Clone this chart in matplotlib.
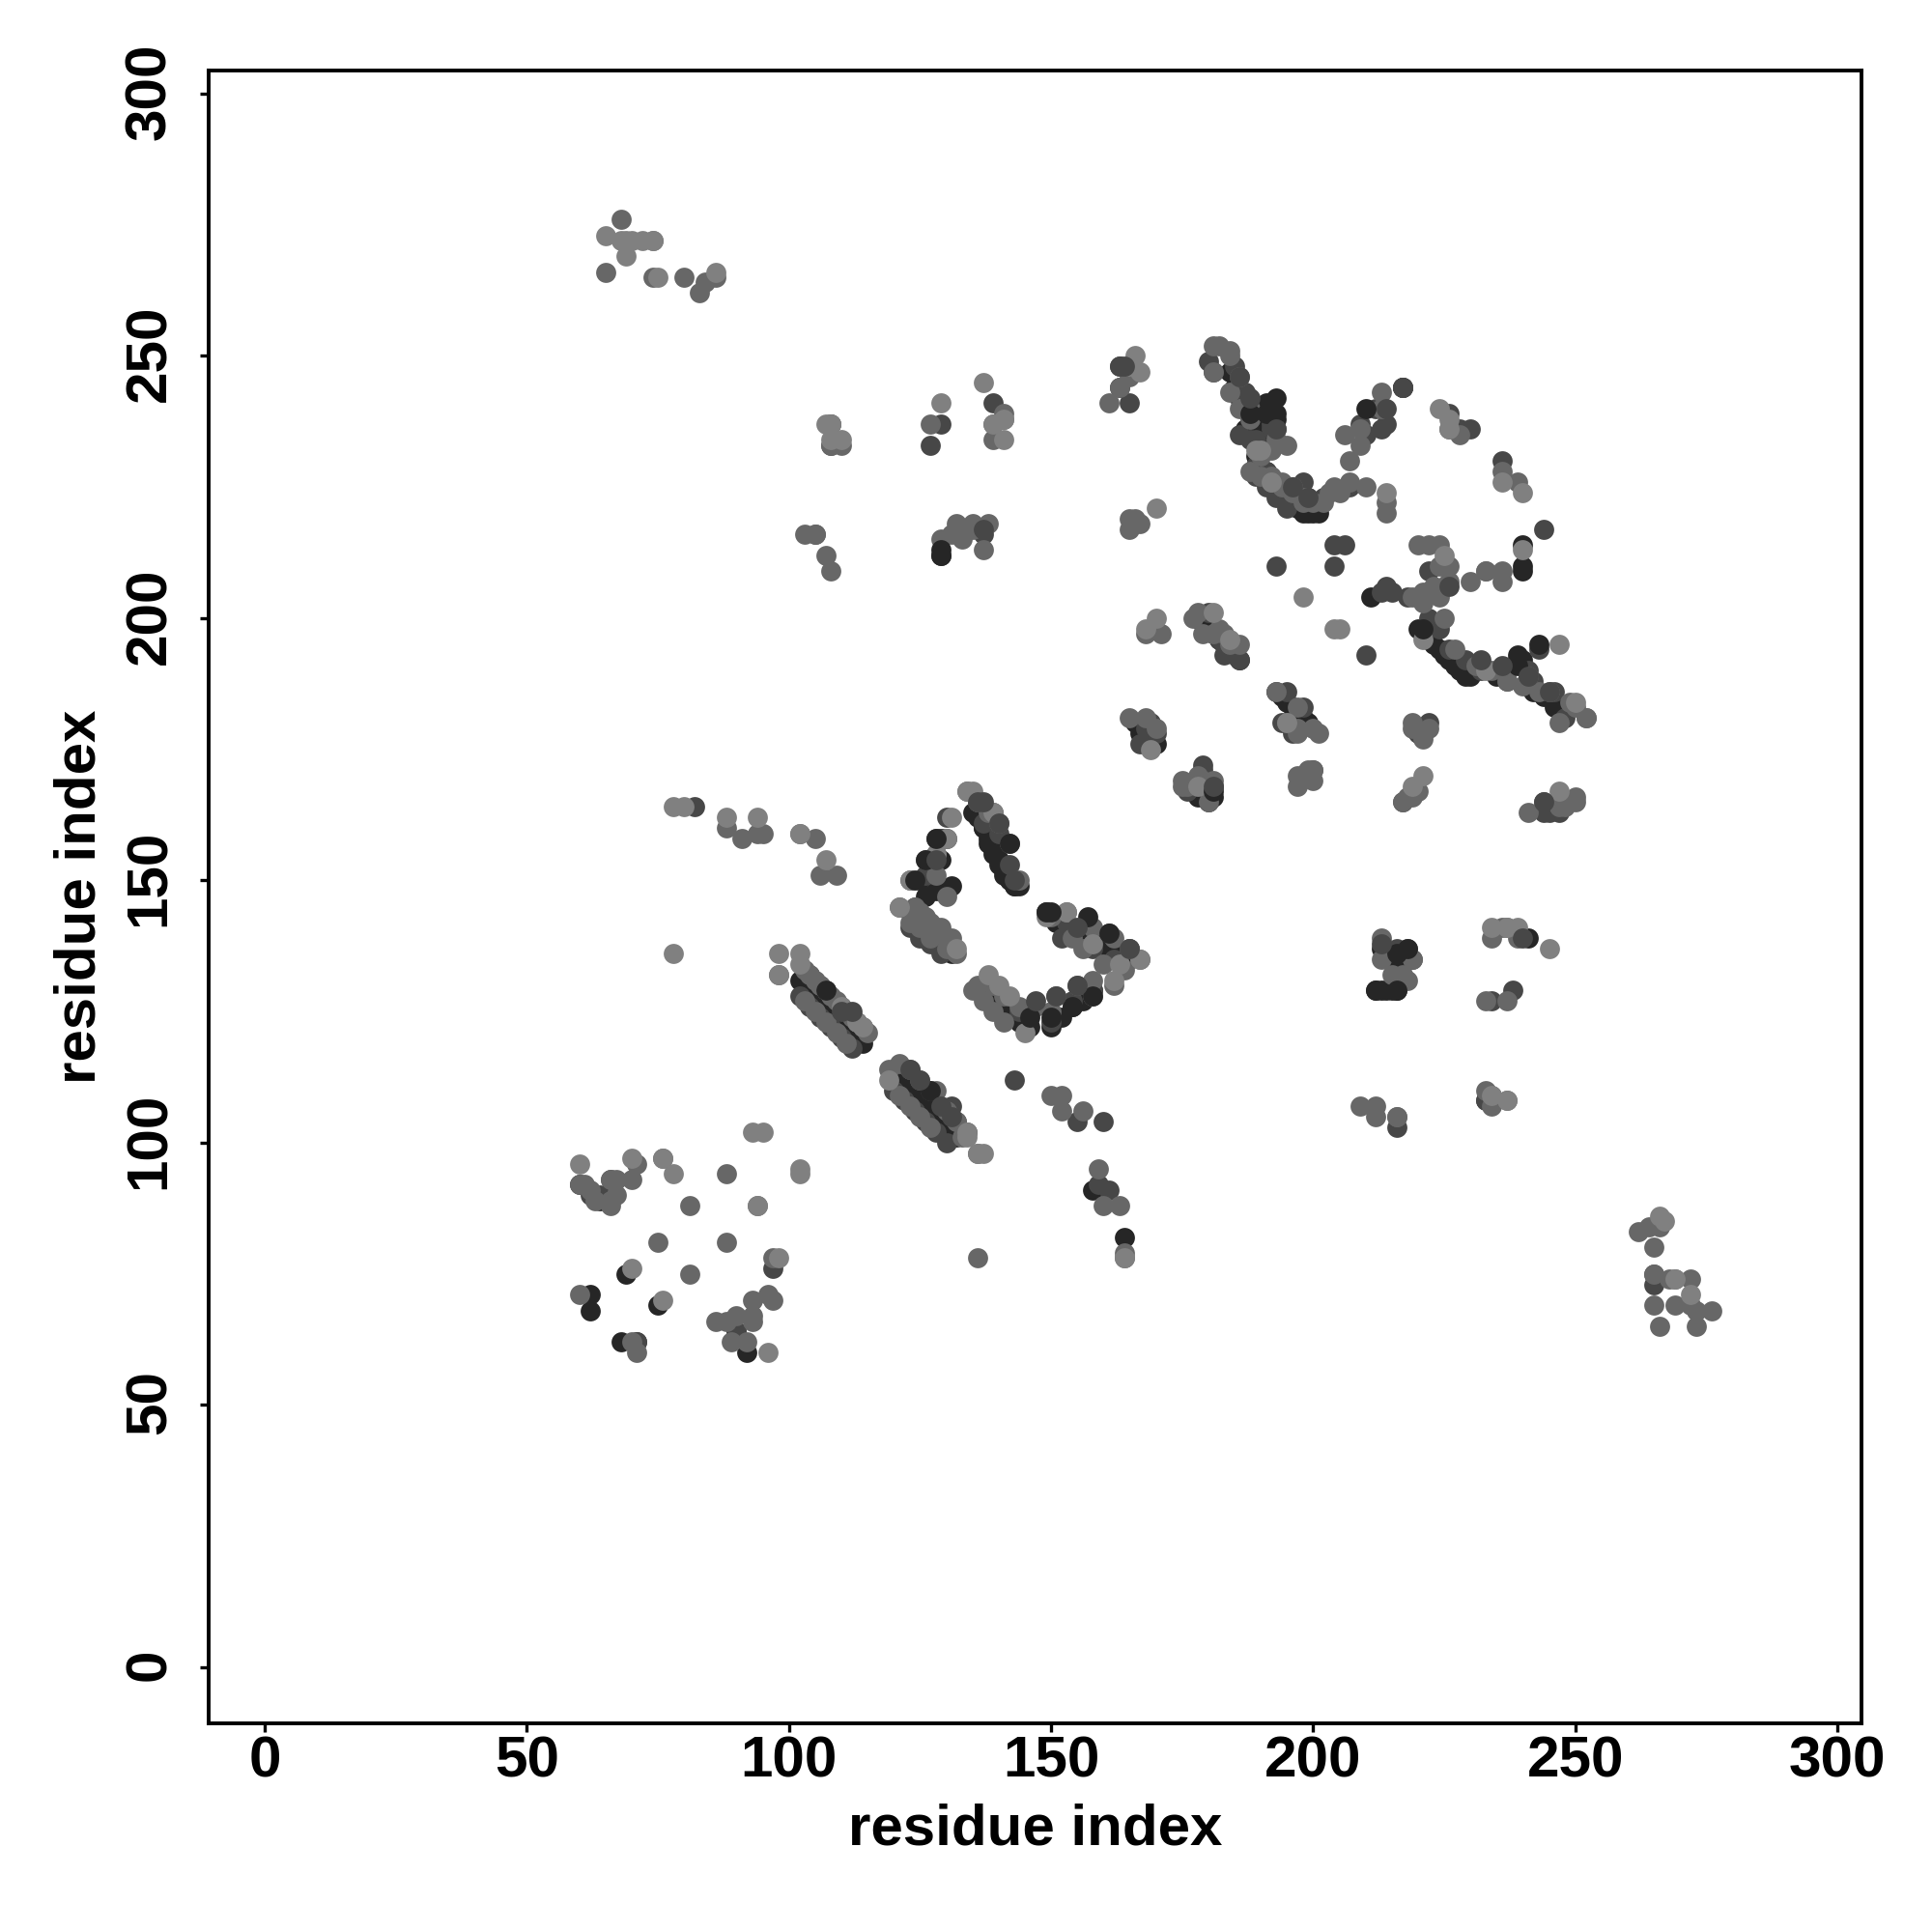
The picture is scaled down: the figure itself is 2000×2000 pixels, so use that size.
import matplotlib
matplotlib.use('Agg')
from matplotlib import pyplot as plt
from matplotlib import transforms

# contact pairs, one x and y list per grey level
x_dark = [60,62,62,68,71,69,75,64,90,92,
    102,103,104,105,106,107,108,109,110,111,112,113,114,
    120,121,122,123,124,125,126,127,128,129,130,131,132,
    123,124,125,126,127,128,129,130,131,
    135,136,137,138,139,140,141,142,143,
    137,138,139,140,141,142,143,144,
    149,151,153,155,157,159,161,163,165,
    137,138,139,140,141,142,143,144,146,150,152,154,156,158,
    127,129,129,131,126,128,125,
    184,185,186,187,188,189,190,191,187,189,191,193,193,189,191,
    190,191,192,193,194,195,196,197,198,199,200,201,
    220,221,222,223,224,225,226,227,228,229,230,
    235,237,239,240,240,241,242,244,246,248,
    178,179,180,181,182,183,184,185,186,
    193,194,195,196,197,198,199,
    166,167,168,168,169,170,176,178,179,180,181,181,
    212,213,214,215,216,216,217,213,215,
    163,129,158,211,240,240,164,233,241]
y_dark = [92,71,68,62,62,75,69,89,64,60,
    131,130,129,128,127,126,125,124,123,122,121,120,119,
    113,112,111,110,109,108,107,106,105,104,103,102,101,
    144,143,142,141,140,139,138,137,136,
    163,162,160,158,156,154,152,150,149,
    160,157,155,153,151,150,149,149,
    144,142,141,140,139,138,137,136,135,
    130,129,128,127,126,125,124,123,122,122,124,126,127,129,
    154,154,158,149,147,148,150,
    247,244,242,240,238,236,234,232,236,239,241,238,242,231,228,
    228,227,226,225,224,223,222,221,220,220,220,220,
    198,197,196,195,194,193,192,191,190,189,189,
    189,190,192,214,209,187,186,185,183,182,
    200,199,198,197,196,195,194,193,192,
    186,185,184,183,182,181,180,
    180,178,176,180,177,176,168,166,170,165,168,166,
    129,129,129,129,129,134,134,137,136,
    244,212,91,204,210,192,82,108,139]

x_deep = [90,66,64,62,97,
    107,113,104,111,
    127,131,132,134,
    129,126,124,
    136,137,139,140,142,
    153,157,161,165,
    144,150,154,158,
    127,129,133,137,139,
    163,165,185,187,195,193,199,
    188,192,198,202,
    209,212,214,222,
    207,214,213,215,
    224,232,237,241,243,
    228,226,
    169,167,176,179,
    180,182,194,196,
    220,222,245,247,
    143,82,155,160,
    204,206,204,210,236,
    234,238,
    216,218,219,
    193,
    71,216,230,
    214,217,244,
    102,104,106,108,110,112,
    120,122,124,126,128,130,
    123,125,127,129,
    152,158,162,
    189,191,193,195,
    128,130,128,130,
    180,181,186,189,191,189,192,
    217,213,210,
    183,180,186,
    195,198,
    218,222,224,226,229,
    242,246,248,
    168,170,
    176,179,
    200,
    217,220,244,244,
    159,161,105,108,
    233,
    265,265]
y_deep = [64,93,90,90,76,
    129,123,132,125,
    110,107,104,102,
    158,151,145,
    165,161,163,159,153,
    142,142,140,137,
    125,123,127,129,
    233,237,217,216,241,
    248,241,248,243,223,236,223,
    234,237,226,223,
    237,240,237,209,
    225,206,205,205,
    205,190,188,190,194,
    236,239,
    180,176,168,172,
    167,196,180,178,
    178,180,163,163,
    112,164,104,104,
    214,214,210,193,230,
    127,129,
    137,137,135,
    210,
    62,103,236,
    137,244,217,
    128,126,124,122,120,118,
    110,108,106,104,102,100,
    141,139,138,136,
    139,137,135,
    227,225,223,221,
    158,162,155,158,
    249,247,235,229,228,234,236,
    244,236,235,
    193,201,192,
    186,183,
    204,200,198,194,192,
    188,186,181,
    179,178,
    167,171,
    171,
    165,178,165,163,
    92,91,216,233,
    108,
    73,75]

x_mid = [60,61,62,63,66,67,66,66,67,70,71,76,88,81,94,81,75,88,97,60,93,96,97,86,88,90,93,93,89,92,71,70,
    98,103,105,106,108,110,112,114,115,
    119,121,123,125,128,130,132,133,
    126,128,130,123,121,
    134,136,138,140,142,144,
    153,158,162,165,167,149,150,
    136,139,141,144,147,150,151,155,158,162,
    123,125,127,130,132,
    88,91,94,95,102,105,106,109,
    150,152,152,156,
    159,160,163,136,136,
    165,166,163,165,161,
    181,182,181,184,186,184,186,188,193,195,192,188,190,192,194,196,198,203,205,207,210,
    217,209,207,213,209,214,214,
    226,228,236,239,
    221,223,225,226,224,233,236,
    220,222,224,226,224,230,233,236,
    237,241,245,249,252,247,
    168,171,178,181,183,184,186,
    193,197,197,200,201,
    165,168,170,175,176,179,181,
    197,199,200,217,219,
    219,222,241,248,250,
    65,74,74,80,83,84,86,
    108,110,127,141,139,
    105,107,108,
    129,132,135,137,
    165,167,
    213,219,217,215,218,
    209,212,216,
    234,237,233,237,
    233,234,237,
    262,264,266,265,265,269,272,265,269,272,273,276,266,273,
    103,105,107,109,111,
    104,106,109,111,113,
    121,123,125,127,
    125,127,129,131,128,130,
    124,126,129,131,
    135,137,139,141,
    154,156,160,164,
    184,188,190,192,194,196,198,200,202,204,
    213,206,
    219,221,223,225,227,231,234,
    240,243,250,252,
    177,179,182,
    195,197,
    164,164,
    175,178,180,
    197,200,
    218,220,
    219,221,
    247,250,
    108,108,
    141,139,
    213,217,
    236,239,
    212,216,
    234,
    266,268,
    68,
    103,131,133,135,138]
y_mid = [92,92,91,89,93,93,89,88,90,93,96,97,94,88,88,75,81,81,78,71,70,71,70,66,66,67,67,66,62,62,60,62,
    132,133,131,130,128,126,124,122,121,
    114,115,114,112,110,106,104,101,
    154,151,147,150,145,
    167,165,163,161,157,150,
    144,141,139,137,135,144,143,
    130,130,128,126,126,125,128,130,131,130,
    142,141,139,137,136,
    160,158,159,159,159,158,151,151,
    109,109,106,106,
    95,88,88,98,78,
    217,219,244,246,241,
    252,252,247,250,246,243,240,238,234,233,232,228,227,226,225,224,223,224,224,226,225,
    244,236,230,240,233,222,220,
    236,235,228,226,
    203,205,206,207,204,209,209,
    214,214,210,210,214,207,209,207,
    188,189,186,184,181,180,
    197,197,201,197,197,195,195,
    186,183,179,179,178,
    181,181,179,168,168,169,169,
    170,171,169,165,166,
    179,179,163,164,166,
    266,265,272,265,262,264,265,
    237,233,237,238,234,
    216,212,209,
    215,218,218,213,
    219,218,
    139,135,132,132,131,
    107,105,105,
    139,141,127,127,
    110,107,108,
    83,84,84,80,75,74,74,69,69,69,68,68,65,65,
    127,125,123,121,119,
    132,130,127,125,123,
    109,107,105,103,
    144,142,140,138,141,139,
    145,143,141,139,
    129,127,125,123,
    139,137,134,133,
    251,240,231,227,226,225,222,222,222,225,
    243,235,
    204,205,206,200,194,191,190,
    187,186,183,181,
    200,197,198,
    180,178,
    78,79,
    169,170,165,
    168,171,
    166,167,
    180,177,
    164,165,
    233,237,
    239,237,
    135,131,
    141,139,
    107,105,
    109,
    85,74,
    276,
    216,216,215,217,218]

x_light = [60,70,78,76,70,76,94,98,96,
    98,102,98,102,107,110,113,
    134,136,119,
    131,130,128,132,
    134,135,139,
    149,153,158,163,167,
    138,140,142,145,158,162,
    78,78,80,88,94,102,107,
    93,95,102,102,
    134,137,
    65,68,69,70,72,74,69,75,86,
    108,110,129,137,141,
    166,165,167,170,
    181,184,195,
    190,205,
    214,
    224,226,226,236,240,
    221,247,
    170,169,
    178,
    198,
    240,
    225,
    221,
    247,
    219,
    239,
    234,237,
    245,
    234,237,
    266,269,272,
    114,
    123,121,
    189,192,
    233,
    250,
    168,
    164,
    267,
    107,108,
    139,141,
    204]
y_light = [96,76,94,70,97,97,88,78,60,
    136,136,132,134,129,126,123,
    102,98,112,
    162,158,155,137,
    167,167,163,
    143,144,138,134,135,
    132,130,128,121,128,131,
    136,164,164,162,162,159,154,
    102,102,95,94,
    101,98,
    273,272,272,272,272,272,269,265,266,
    234,234,241,245,234,
    250,248,247,221,
    201,196,180,
    232,198,
    224,
    240,238,236,226,224,
    170,167,
    200,175,
    168,
    204,
    213,
    212,
    196,
    195,
    168,
    141,
    141,141,
    137,
    109,108,
    86,74,71,
    122,
    150,145,
    232,226,
    190,
    184,
    198,
    78,
    85,
    237,237,
    237,238,
    198]

# marks sitting over the lighter ones
x_top_dark = [107,127,128,126,124,142,149,150,157,161,146,150,154,158,
    191,193,188,210,221,239,239,243,216,181,
    129,129,212,216,218]
y_top_dark = [129,110,158,154,150,157,144,144,143,140,124,124,126,128,
    239,239,239,240,198,193,191,195,129,167,
    213,212,129,136,137]
x_top_deep = [110,112,123,125,131,129,128,136,137,140,155,165,147,151,155,
    186,188,193,196,199,214,217,217,163,232,236,245,241,
    143,137,164,213,
    244,240,226,181]
y_top_deep = [125,125,114,112,105,107,154,165,165,161,141,137,127,128,130,
    246,242,236,225,223,240,244,244,248,192,191,186,189,
    150,217,248,138,
    165,139,206,168]

shade_dark = '#262626'
shade_deep = '#474747'
shade_mid = '#676767'
shade_light = '#808080'

fig = plt.figure(figsize=(10, 10), dpi=200)
plt.rcParams['font.family'] = ['Liberation Sans', 'DejaVu Sans']
ax = fig.add_axes([216/2000, 216/2000, 1711/2000, 1711/2000])

for xs, ys, c in [(x_dark, y_dark, shade_dark), (x_deep, y_deep, shade_deep),
                  (x_mid, y_mid, shade_mid), (x_light, y_light, shade_light),
                  (x_top_dark, y_top_dark, shade_dark), (x_top_deep, y_top_deep, shade_deep)]:
    ax.scatter(xs, ys, s=56, c=c, linewidths=0)

ax.set_xlim(-10.7, 304.6)
ax.set_ylim(-10.7, 304.4)
ax.set_xticks([0, 50, 100, 150, 200, 250, 300])
ax.set_yticks([0, 50, 100, 150, 200, 250, 300])
for side in ax.spines.values():
    side.set_linewidth(1.4)
ax.tick_params(axis='x', length=3.4, width=1.2, pad=1)
ax.tick_params(axis='y', length=3.4, width=1.2, pad=8.4)
for t in ax.get_xticklabels():
    t.set_fontsize(21.7)
    t.set_fontweight('bold')
up = transforms.ScaledTranslation(0, 0.9/72, fig.dpi_scale_trans)
for t in ax.get_yticklabels():
    t.set_fontsize(21.7)
    t.set_fontweight('bold')
    t.set_rotation(90)
    t.set_va('center')
    t.set_transform(t.get_transform() + up)
ax.set_xlabel('residue index', fontsize=21.6, fontweight='bold', labelpad=5.5)
ax.set_ylabel('residue index', fontsize=21.6, fontweight='bold', labelpad=6.5)
fig.savefig('out.png')
